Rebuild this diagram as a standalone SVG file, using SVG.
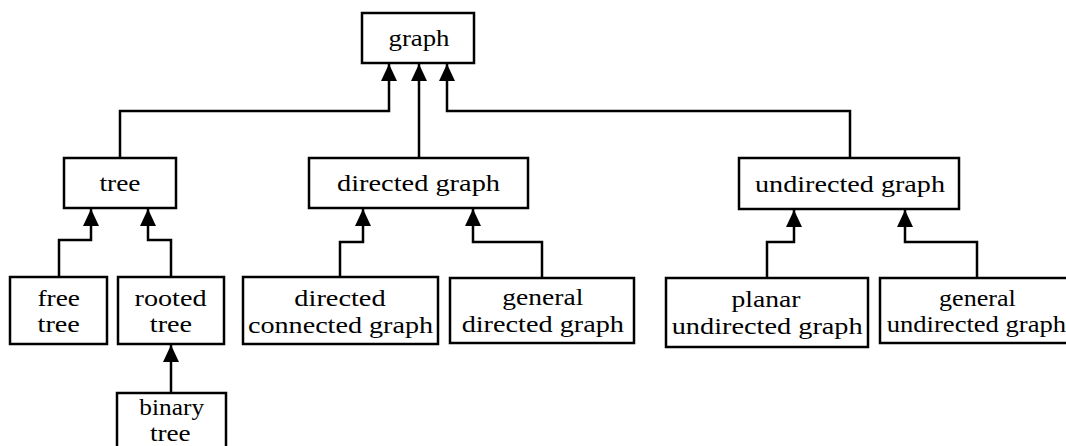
<svg xmlns="http://www.w3.org/2000/svg" width="1066" height="446" viewBox="0 0 1066 446" font-family="'Liberation Serif', 'Times New Roman', Times, serif">
  <style>
    .box { fill: #ffffff; stroke: #000000; stroke-width: 2.5; }
    .edge { fill: none; stroke: #000000; stroke-width: 2.5; marker-end: url(#arrow); }
    .lbl { font-family: 'Liberation Serif', 'Times New Roman', Times, serif; font-size: 24px; fill: #000000; text-anchor: middle; }
  </style>
  <defs>
    <marker id="arrow" viewBox="0 0 17 16" refX="17" refY="8" markerWidth="17" markerHeight="16" markerUnits="userSpaceOnUse" orient="auto">
      <path d="M0,0 L17,8 L0,16 Z" fill="#000000"/>
    </marker>
  </defs>
  <rect width="1066" height="446" fill="#ffffff"/>

  <!-- connectors: child to parent, arrowhead at the parent -->
  <g id="connectors">
    <path class="edge" d="M120,158 V111 H389 V64"/>
    <path class="edge" d="M419,158 V64"/>
    <path class="edge" d="M850,158 V111 H447 V64"/>
    <path class="edge" d="M59,277 V240 H91 V209"/>
    <path class="edge" d="M171,277 V240 H148 V209"/>
    <path class="edge" d="M171,393 V345"/>
    <path class="edge" d="M340,277 V242 H363 V209"/>
    <path class="edge" d="M542,278 V242 H473 V209"/>
    <path class="edge" d="M767,278 V242 H794 V210"/>
    <path class="edge" d="M977,278 V242 H905 V210"/>
  </g>

  <g id="graph">
    <rect class="box" x="362" y="13" width="112" height="50"/>
    <text class="lbl" x="419" y="46" textLength="61" lengthAdjust="spacingAndGlyphs">graph</text>
  </g>

  <g id="tree">
    <rect class="box" x="64" y="158" width="112" height="50"/>
    <text class="lbl" x="120" y="191" textLength="41" lengthAdjust="spacingAndGlyphs">tree</text>
  </g>

  <g id="directed-graph">
    <rect class="box" x="309" y="158" width="219" height="50"/>
    <text class="lbl" x="418.5" y="191" textLength="163" lengthAdjust="spacingAndGlyphs">directed graph</text>
  </g>

  <g id="undirected-graph">
    <rect class="box" x="739" y="158" width="220" height="51"/>
    <text class="lbl" x="850" y="192" textLength="190" lengthAdjust="spacingAndGlyphs">undirected graph</text>
  </g>

  <g id="free-tree">
    <rect class="box" x="10" y="277" width="97" height="67"/>
    <text class="lbl" x="58.7" y="305.5" textLength="42.5" lengthAdjust="spacingAndGlyphs">free</text>
    <text class="lbl" x="58.7" y="332.3" textLength="42.3" lengthAdjust="spacingAndGlyphs">tree</text>
  </g>

  <g id="rooted-tree">
    <rect class="box" x="118" y="277" width="106" height="67"/>
    <text class="lbl" x="170.5" y="305.5" textLength="72" lengthAdjust="spacingAndGlyphs">rooted</text>
    <text class="lbl" x="171" y="332.3" textLength="42.3" lengthAdjust="spacingAndGlyphs">tree</text>
  </g>

  <g id="binary-tree">
    <rect class="box" x="117" y="393" width="109" height="70"/>
    <text class="lbl" x="171.7" y="415.3" textLength="64.7" lengthAdjust="spacingAndGlyphs">binary</text>
    <text class="lbl" x="170.3" y="441" textLength="40.7" lengthAdjust="spacingAndGlyphs">tree</text>
  </g>

  <g id="directed-connected-graph">
    <rect class="box" x="243" y="277" width="195" height="67"/>
    <text class="lbl" x="340" y="305.7" textLength="91.3" lengthAdjust="spacingAndGlyphs">directed</text>
    <text class="lbl" x="340.5" y="332.7" textLength="185" lengthAdjust="spacingAndGlyphs">connected graph</text>
  </g>

  <g id="general-directed-graph">
    <rect class="box" x="450" y="278" width="184" height="65"/>
    <text class="lbl" x="542.8" y="305" textLength="81" lengthAdjust="spacingAndGlyphs">general</text>
    <text class="lbl" x="542.8" y="331.7" textLength="162.3" lengthAdjust="spacingAndGlyphs">directed graph</text>
  </g>

  <g id="planar-undirected-graph">
    <rect class="box" x="666" y="278" width="202" height="69"/>
    <text class="lbl" x="766" y="306.5" textLength="69" lengthAdjust="spacingAndGlyphs">planar</text>
    <text class="lbl" x="767.2" y="334" textLength="191" lengthAdjust="spacingAndGlyphs">undirected graph</text>
  </g>

  <g id="general-undirected-graph">
    <rect class="box" x="880" y="278" width="195" height="65"/>
    <text class="lbl" x="977.4" y="306" textLength="76.7" lengthAdjust="spacingAndGlyphs">general</text>
    <text class="lbl" x="976.4" y="331.7" textLength="179.3" lengthAdjust="spacingAndGlyphs">undirected graph</text>
  </g>
</svg>
